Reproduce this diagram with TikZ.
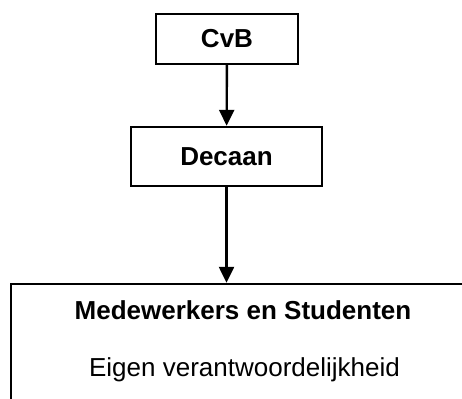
\documentclass[tikz,border=0pt]{standalone}
\usepackage{fontspec}
\setmainfont{Liberation Sans}
\usetikzlibrary{arrows.meta, positioning}

\begin{document}
\begin{tikzpicture}[>={Triangle[length=16pt, width=15pt]}, x=1pt, y=-1pt, line width=2.4pt]
            \tikzstyle{box}=[rectangle, draw=black, inner sep=0pt]
            \tikzstyle{label}=[font=\fontsize{26}{30}\selectfont]

            \clip (0,0) rectangle (462,398);

            \node[box, minimum width=142pt, minimum height=50pt, label] at (227,39) (CvB) {\textbf{CvB}};
            \node[box, minimum width=191pt, minimum height=59pt, label] at (226.5,156.5) (Decaan) {\textbf{Decaan}};
            \node[box, minimum width=470pt, minimum height=140pt] at (246,354) (Staff) {};
            \node[label] at (243,310) (StaffTitle) {\textbf{Medewerkers en Studenten}};
            \node[label] at (244.5,370) (StaffNote) {Eigen verantwoordelijkheid};

            \path (CvB) edge[->] (Decaan);
            \path (Decaan) edge[->] (Decaan |- Staff.north);

          \end{tikzpicture}
\end{document}
